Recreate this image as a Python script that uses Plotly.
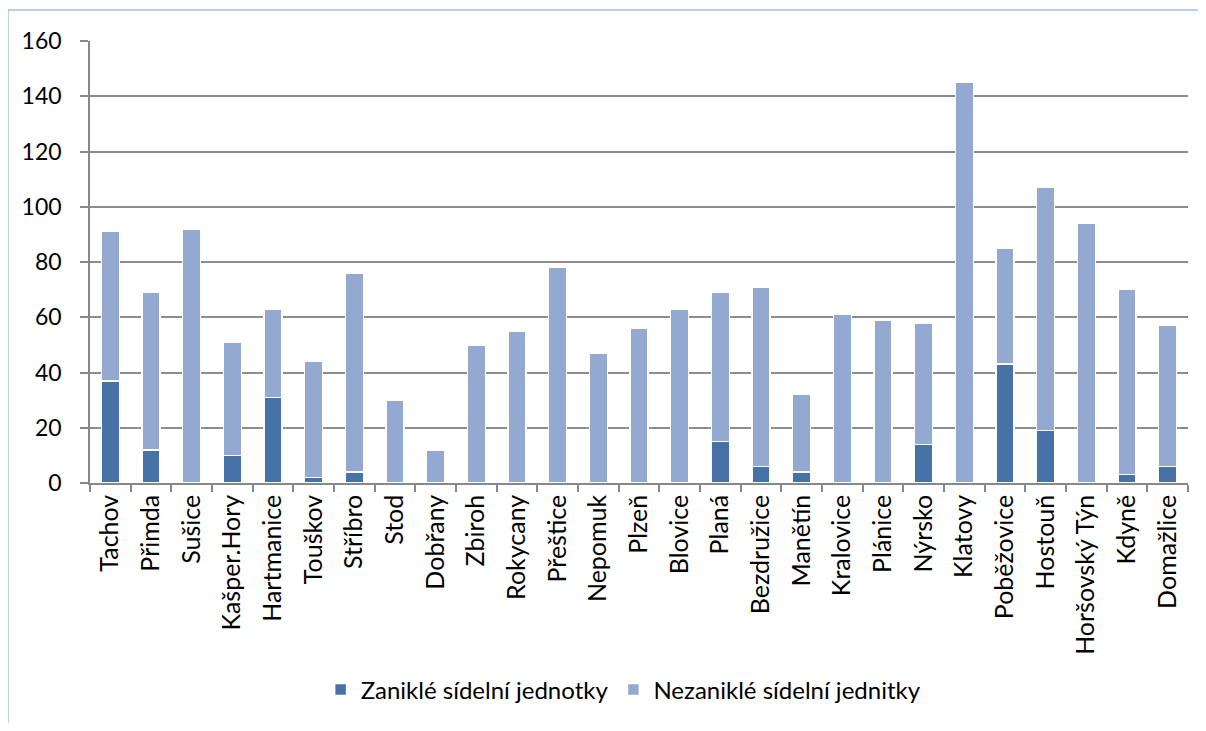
import plotly.graph_objects as go

categories = ["Tachov", "Přimda", "Sušice", "Kašper.Hory", "Hartmanice", "Touškov", "Stříbro",
              "Stod", "Dobřany", "Zbiroh", "Rokycany", "Přeštice", "Nepomuk", "Plzeň", "Blovice",
              "Planá", "Bezdružice", "Manětín", "Kralovice", "Plánice", "Nýrsko", "Klatovy",
              "Poběžovice", "Hostouň", "Horšovský Týn", "Kdyně", "Domažlice"]
totals = [91, 69, 92, 51, 63, 44, 76, 30, 12, 50, 55, 78, 47, 56, 63, 69, 71, 32, 61, 59, 58, 145,
          85, 107, 94, 70, 57]
zanikle = [37, 12, 0, 10, 31, 2, 4, 0, 0, 0, 0, 0, 0, 0, 0, 15, 6, 4, 0, 0, 14, 0, 43, 19, 0, 3, 6]
nezanikle = [t - z for t, z in zip(totals, zanikle)]

FONT = "Lato"
DARK = "#4672A7"
LIGHT = "#94A9D1"

fig = go.Figure()
fig.add_trace(go.Bar(x=categories, y=zanikle, name="Zaniklé sídelní jednotky",
                     marker=dict(color=DARK, line=dict(color="white", width=1.5))))
fig.add_trace(go.Bar(x=categories, y=nezanikle, name="Nezaniklé sídelní jednitky",
                     marker=dict(color=LIGHT, line=dict(color="white", width=1.5))))

fig.update_layout(
    barmode="stack",
    bargap=0.56,
    width=1190, height=715,
    margin=dict(l=82, r=10, t=33, b=240),
    paper_bgcolor="white", plot_bgcolor="white",
    font=dict(family=FONT, size=24, color="black"),
    showlegend=True,
    legend=dict(orientation="h", x=0.486, xanchor="center", y=-0.468, yanchor="middle",
                font=dict(family=FONT, size=24, color="black"), itemwidth=30,
                traceorder="normal"),
    shapes=[dict(type="rect", xref="paper", yref="paper",
                 x0=-82/1098, x1=1.2, y0=-2, y1=1 + 31/442,
                 line=dict(color="#A5BDE4", width=1.5), layer="below")],
)
fig.update_xaxes(
    type="category", tickson="boundaries", ticks="outside", ticklen=7, tickcolor="#888888",
    tickwidth=1.5, showline=True, linecolor="#888888", linewidth=1.5, tickangle=-90,
    tickfont=dict(family=FONT, size=25, color="black"), showgrid=False,
)
fig.update_yaxes(
    range=[0, 160], dtick=20, ticks="outside", ticklen=8, tickcolor="#888888", tickwidth=1.5,
    showline=True, linecolor="#888888", linewidth=1.5, showgrid=True, gridcolor="#8c8c8c",
    gridwidth=1.5, zeroline=False, tickfont=dict(family=FONT, size=23, color="black"),
    ticklabelstandoff=14,
)

fig.write_html("out.html")
